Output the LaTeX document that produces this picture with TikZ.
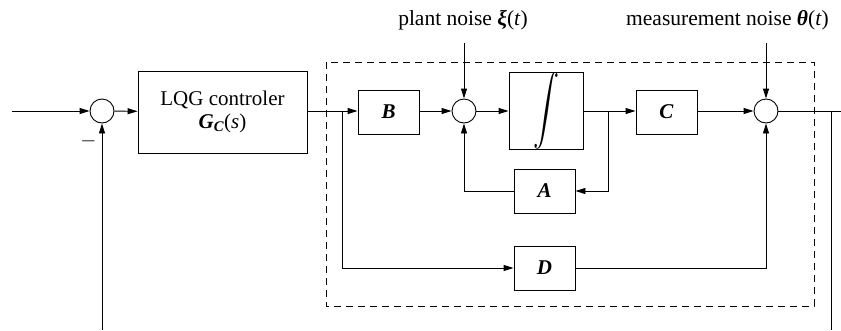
\documentclass[tikz,border=0pt]{standalone}
\usepackage{fontspec}
\usepackage{graphicx}
\setmainfont{Liberation Serif}
\usetikzlibrary{arrows.meta}
\newcommand{\bi}[1]{\textbf{\textit{#1}}}
\begin{document}
\begin{tikzpicture}[x=1pt,y=-1pt,
  line width=0.9pt,
  >={Triangle[length=10pt,width=6pt]},
  blk/.style={draw,minimum width=61pt,minimum height=44pt,inner sep=0pt,font=\fontsize{21}{25}\selectfont},
  sumc/.style={draw,circle,minimum size=24pt,inner sep=0pt},
  lbl/.style={font=\fontsize{21.5}{25}\selectfont,inner sep=0pt}]
\useasboundingbox (0,0) rectangle (841,330);
% dashed plant boundary
\draw[dashed,dash pattern=on 7pt off 5pt] (326,62) rectangle (814,306);
% nodes
\coordinate (in) at (12,111);
\node[sumc] (s1) at (102,111) {};
\node[draw,minimum width=169pt,minimum height=82pt,inner sep=0pt,align=center,
      font=\fontsize{21}{25}\selectfont] (lqg) at (222.5,112)
      {LQG controler\\[-2pt] \bi{G}\textsubscript{\bi{C}}(\textit{s})};
\coordinate (br1) at (342,111);
\node[blk] (B) at (388.5,112) {\bi{B}};
\node[sumc] (s2) at (464,111) {};
\node[draw,minimum width=74pt,minimum height=66pt,inner sep=0pt] (int) at (546,111)
      {\resizebox{26pt}{47pt}{$\displaystyle\int$}};
\coordinate (br2) at (608,111);
\node[blk] (C) at (666.5,112) {\bi{C}};
\node[sumc] (s3) at (766,111) {};
\node[blk] (A) at (544.5,191) {\bi{A}};
\node[blk] (D) at (544.5,268) {\bi{D}};
\coordinate (br3) at (831,111);
\coordinate (out) at (841,111);
\coordinate (fb1) at (102,330);
\coordinate (fb2) at (831,330);
\node[lbl] (pn) at (463,20) {plant noise \bi{ξ}(\textit{t})};
\node[lbl] (mn) at (727.5,20) {measurement noise \bi{θ}(\textit{t})};
\coordinate (pnt) at (464,43);
\coordinate (mnt) at (766,43);
\node[font=\fontsize{20}{22}\selectfont,inner sep=0pt] (minus) at (88.5,141) {$-$};
% connectors
\draw[->] (in) -- (s1);
\draw[->] (s1) -- (lqg);
\draw[->] (lqg.east |- br1) -- (B.west |- br1);
\draw[->] (B.east |- s2) -- (s2);
\draw[->] (s2) -- (int);
\draw[->] (int.east) -- (C.west |- int.east);
\draw[->] (C.east |- s3) -- (s3);
\draw (s3) -- (out);
\draw[->] (br2) |- (A.east);
\draw[->] (A.west) -| (s2.south);
\draw[->] (br1) |- (D.west);
\draw[->] (D.east) -| (s3.south);
\draw[->] (pnt) -- (s2.north);
\draw[->] (mnt) -- (s3.north);
\draw[->] (fb1) -- (s1.south);
\draw (br3) -- (fb2);
\end{tikzpicture}
\end{document}
